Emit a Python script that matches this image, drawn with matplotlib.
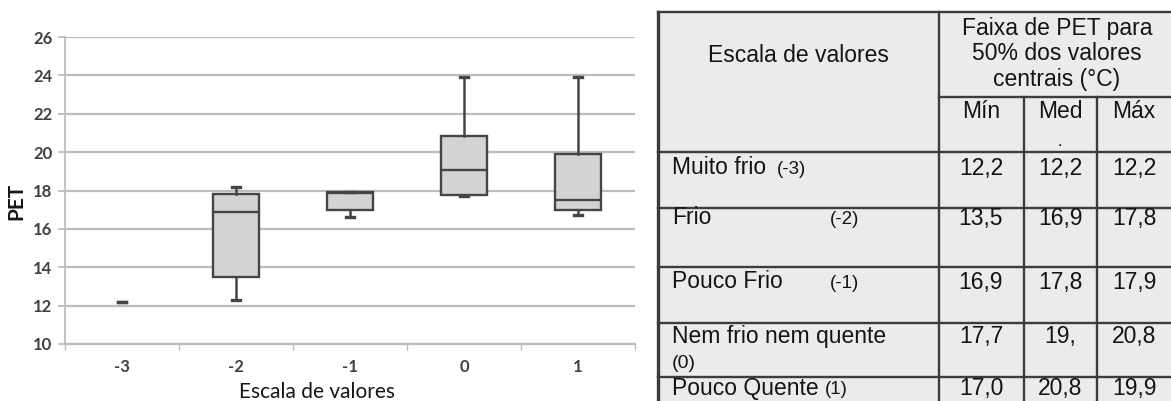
import matplotlib
matplotlib.use("Agg")
import matplotlib.pyplot as plt
from matplotlib.patches import Rectangle

# ---------------- data ----------------
categories = ["-3", "-2", "-1", "0", "1"]
whisker_low = [12.2, 12.3, 16.6, 17.7, 16.7]
quartile1 = [12.2, 13.5, 17.0, 17.75, 17.0]
medians = [12.2, 16.9, 17.85, 19.05, 17.5]
quartile3 = [12.2, 17.8, 17.9, 20.85, 19.9]
whisker_high = [12.2, 18.2, 17.9, 23.9, 23.9]

y_ticks = [10, 12, 14, 16, 18, 20, 22, 24, 26]

table_header_left = "Escala de valores"
table_header_right = "Faixa de PET para\n50% dos valores\ncentrais (°C)"
table_subheaders = ["Mín", "Med", "Máx"]
row_names = ["Muito frio", "Frio", "Pouco Frio", "Nem frio nem quente", "Pouco Quente"]
row_codes = ["(-3)", "(-2)", "(-1)", "(0)", "(1)"]
col_min = ["12,2", "13,5", "16,9", "17,7", "17,0"]
col_med = ["12,2", "16,9", "17,8", "19,", "20,8"]
col_max = ["12,2", "17,8", "17,9", "20,8", "19,9"]

# ---------------- figure ----------------
W, H = 1171, 401
fig = plt.figure(figsize=(W / 100, H / 100), dpi=100)
fig.patch.set_facecolor("white")

# ---- table (pixel coordinates) ----
tax = fig.add_axes([0, 0, 1, 1])
tax.set_xlim(0, W)
tax.set_ylim(H, 0)
tax.axis("off")

tl, tr, tt, tb = 658, 1176, 12, 420
c1, c2, c3 = 939, 1024, 1097
hsub, hbot = 97, 152
row_tops = [152, 208, 267, 323, 377]
lc = "#3c3c3c"
tax.add_patch(Rectangle((tl, tt), tr - tl, tb - tt, facecolor="#ebebeb",
                        edgecolor="none", zorder=0))
lw = 1.7
tax.plot([tl, tr], [tt, tt], color=lc, lw=lw)
tax.plot([tl, tl], [tt, tb], color=lc, lw=2.4)
tax.plot([tr, tr], [tt, tb], color=lc, lw=lw)
tax.plot([c1, c1], [tt, tb], color=lc, lw=lw)
tax.plot([c1, tr], [hsub, hsub], color=lc, lw=lw)
for cx in (c2, c3):
    tax.plot([cx, cx], [hsub, tb], color=lc, lw=lw)
for ry in row_tops:
    tax.plot([tl, tr], [ry, ry], color=lc, lw=lw)

tfont = "Liberation Sans"
tcol = "#141414"
fs = 16.5
tax.text((tl + c1) / 2, 55, table_header_left, ha="center", va="center",
         fontsize=fs, family=tfont, color=tcol)
tax.text(1057, 54, table_header_right, ha="center", va="center",
         fontsize=fs, family=tfont, color=tcol, linespacing=1.12)
col_centers = [981, 1060, 1134]
for cx, s in zip(col_centers, table_subheaders):
    tax.text(cx, 112, s, ha="center", va="center", fontsize=fs,
             family=tfont, color=tcol)
tax.text(col_centers[1], 141, ".", ha="center", va="center", fontsize=12,
         family=tfont, color=tcol)

name_y = [168, 218, 282, 337, 389]
code_x = [777, 830, 830, None, 825]
for i, (nm, cd) in enumerate(zip(row_names, row_codes)):
    y = name_y[i]
    tax.text(672, y, nm, ha="left", va="center", fontsize=fs,
             family=tfont, color=tcol)
    if code_x[i] is None:
        tax.text(672, 363, cd, ha="left", va="center", fontsize=14,
                 family=tfont, color=tcol)
    else:
        tax.text(code_x[i], y + 1, cd, ha="left", va="center", fontsize=13.5,
                 family=tfont, color=tcol)
    for cx, col in zip(col_centers, (col_min, col_med, col_max)):
        tax.text(cx, y, col[i], ha="center", va="center", fontsize=fs,
                 family=tfont, color=tcol)

# ---- box plot ----
ax = fig.add_axes([65 / W, 1 - 344 / H, 570 / W, 307 / H])
ax.set_facecolor("white")
stats = []
for i, c in enumerate(categories):
    stats.append(dict(label=c, whislo=whisker_low[i], q1=quartile1[i],
                      med=medians[i], q3=quartile3[i], whishi=whisker_high[i]))
pos = list(range(len(categories)))
edge = "#454545"
res = ax.bxp(stats, positions=pos, widths=0.41, patch_artist=True,
             showfliers=False, capwidths=0.07,
             boxprops=dict(facecolor="#d3d3d3", edgecolor=edge, linewidth=1.7),
             medianprops=dict(color=edge, linewidth=1.7),
             whiskerprops=dict(color=edge, linewidth=1.8),
             capprops=dict(color=edge, linewidth=2.4), zorder=3)
res["boxes"][0].set_visible(False)
res["medians"][0].set_visible(False)

tick_font = dict(fontsize=12, fontfamily="Lato", fontweight="bold",
                 color="#404040")
ax.set_xlim(-0.5, len(categories) - 0.5)
ax.set_ylim(10, 26)
ax.set_yticks(y_ticks)
ax.set_yticklabels([str(v) for v in y_ticks], **tick_font)
ax.set_xticks(pos)
ax.set_xticklabels(categories, **tick_font)
ax.set_xticks([p - 0.5 for p in pos] + [len(categories) - 0.5], minor=True)
ax.yaxis.grid(True, color="#bdbdbd", linewidth=1.6, zorder=0)
ax.set_axisbelow(True)
for s in ("top", "right"):
    ax.spines[s].set_visible(False)
ax.spines["left"].set_color("#bdbdbd")
ax.spines["bottom"].set_color("#bdbdbd")
ax.spines["left"].set_linewidth(1.3)
ax.spines["bottom"].set_linewidth(1.6)
ax.tick_params(axis="y", length=5, color="#bdbdbd", width=1.3, pad=4)
ax.tick_params(axis="x", which="major", length=0, pad=11)
ax.tick_params(axis="x", which="minor", length=4, color="#bdbdbd", width=1)
ax.set_xlabel("Escala de valores", fontsize=15, family="Lato", color="#151515")
ax.xaxis.set_label_coords((317 - 65) / 570, -0.125)
ax.set_ylabel("PET", fontsize=15, family="Lato", fontweight="bold",
              color="#151515")
ax.yaxis.set_label_coords(-0.067, 0.466)

fig.savefig("out.png", dpi=100, facecolor="white")
